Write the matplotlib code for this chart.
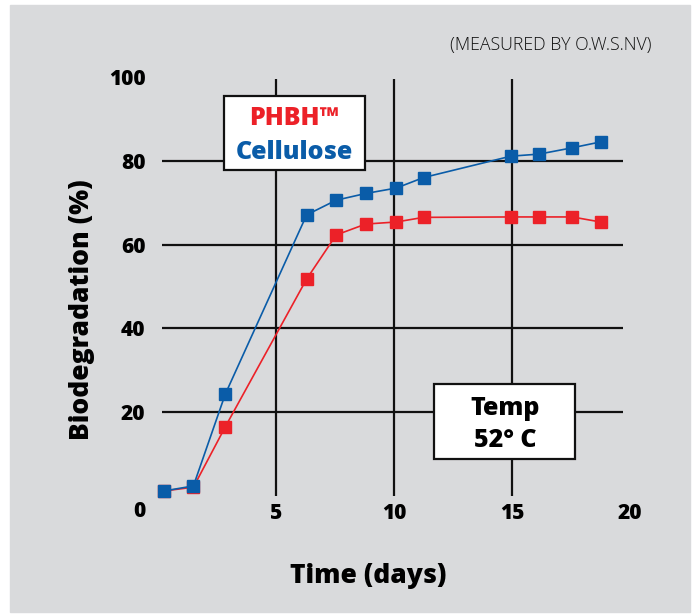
import matplotlib
matplotlib.use('Agg')
import matplotlib.pyplot as plt
from matplotlib.patches import Rectangle

# data
days = [0.25, 1.5, 2.85, 6.3, 7.55, 8.8, 10.1, 11.25, 14.95, 16.15, 17.55, 18.75]
cellulose = [1.2, 2.4, 24.3, 67.1, 70.6, 72.2, 73.5, 76.0, 81.1, 81.6, 83.1, 84.5]
phbh = [1.2, 2.1, 16.5, 51.8, 62.3, 64.9, 65.4, 66.5, 66.6, 66.6, 66.6, 65.4]

x_ticks = [5, 10, 15, 20]
y_ticks = [20, 40, 60, 80, 100]
x_grid = [5, 10, 15]
y_grid = [20, 40, 60, 80]

red = '#ec2128'
blue = '#0a5ca8'
bg = '#d9dadc'
font = 'Open Sans'
wt = 800

fig = plt.figure(figsize=(6.94, 6.14), dpi=100)
fig.patches.append(Rectangle((10 / 694, 2 / 614), 680 / 694, 607 / 614,
                             transform=fig.transFigure, color=bg, zorder=-10))

ax = fig.add_axes([158 / 694, 118 / 614, 472 / 694, 419 / 614])
ax.set_facecolor('none')
ax.set_xlim(0, 20)
ax.set_ylim(0, 100)
for s in ax.spines.values():
    s.set_visible(False)

# grid lines
ax.hlines(y_grid, 0.17, 19.7, color='#111111', lw=1.6, zorder=1)
ax.vlines(x_grid, 0, 99.6, color='#111111', lw=1.6, zorder=1)

# series
ax.plot(days, phbh, color=red, lw=1.2, marker='s', ms=8.5, zorder=3, clip_on=False)
ax.plot(days, cellulose, color=blue, lw=1.2, marker='s', ms=8.5, zorder=4, clip_on=False)

ax.set_xticks(x_ticks)
ax.set_xticklabels([str(t) for t in x_ticks], fontfamily=font, fontweight=wt, fontsize=15)
ax.set_yticks(y_ticks)
ax.set_yticklabels([str(t) for t in y_ticks], fontfamily=font, fontweight=wt, fontsize=15)
ax.tick_params(length=0)
ax.tick_params(axis='x', pad=5)
ax.tick_params(axis='y', pad=9)
ax.text(-0.8, -3.7, '0', ha='center', va='center', fontfamily=font,
        fontweight=wt, fontsize=15)

ax.set_xlabel('Time (days)', fontfamily=font, fontweight=wt, fontsize=19, va='center')
ax.xaxis.set_label_coords(0.445, -0.191)
ax.set_ylabel('Biodegradation (%)', fontfamily=font, fontweight=wt, fontsize=19, va='center')
ax.yaxis.set_label_coords(-0.161, 0.444)

# legend box
leg_box = Rectangle((2.8, 77.8), 5.95, 17.7, facecolor='white', edgecolor='#111111',
                    lw=1.6, zorder=5)
ax.add_patch(leg_box)
ax.text(5.77, 90.2, 'PHBH™', color=red, ha='center', va='center', fontfamily=font,
        fontweight=wt, fontsize=18, zorder=6)
ax.text(5.77, 82.1, 'Cellulose', color=blue, ha='center', va='center', fontfamily=font,
        fontweight=wt, fontsize=18, zorder=6)

# temperature box
temp_box = Rectangle((11.7, 8.8), 5.95, 17.9, facecolor='white', edgecolor='#111111',
                     lw=1.6, zorder=5)
ax.add_patch(temp_box)
ax.text(14.7, 21.0, 'Temp', ha='center', va='center', fontfamily=font,
        fontweight=wt, fontsize=18, zorder=6)
ax.text(14.7, 13.3, '52° C', ha='center', va='center', fontfamily=font,
        fontweight=wt, fontsize=18, zorder=6)

fig.text(652 / 694, 1 - 45 / 614, '(MEASURED BY O.W.S.NV)', ha='right', va='center',
         fontfamily=font, fontweight='light', fontsize=12.8, color='#111111')

fig.savefig('out.png', dpi=100)
